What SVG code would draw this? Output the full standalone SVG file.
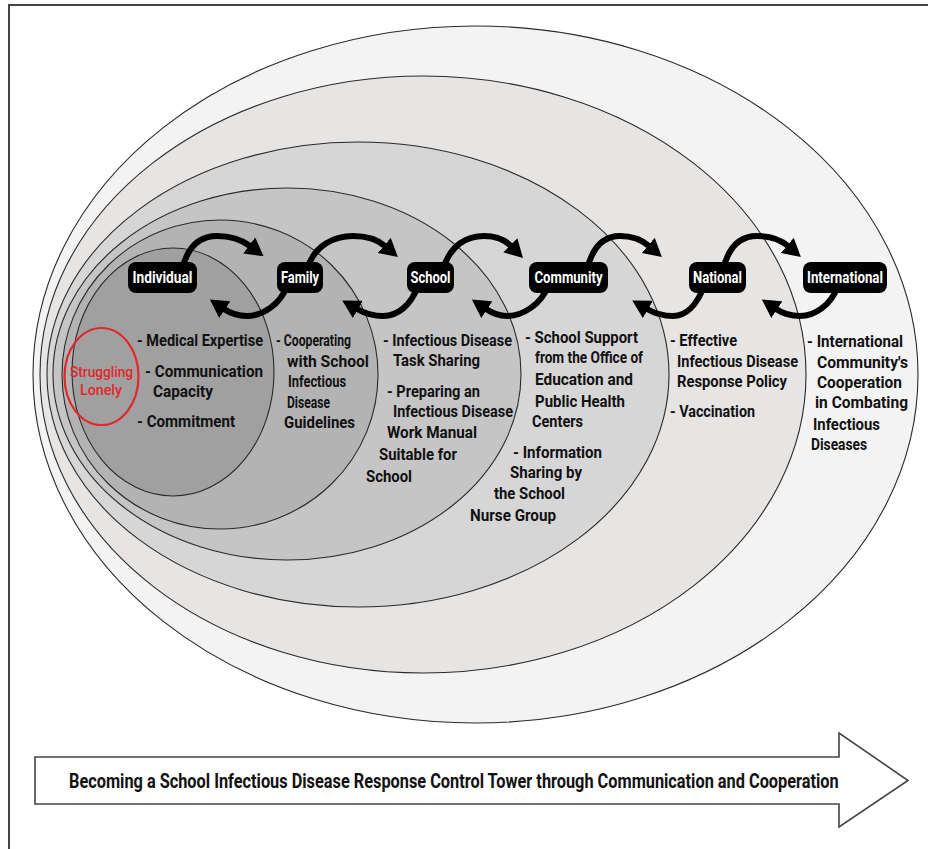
<svg xmlns="http://www.w3.org/2000/svg" width="928" height="849" viewBox="0 0 928 849">
<defs>
<style>
.ring{stroke:#2a2a2a;stroke-width:1.1}
.lbl{fill:#000}
.lt{font-family:Roboto,"Liberation Sans",sans-serif;font-weight:700;font-size:16px;fill:#fff;text-anchor:middle}
.t{font-family:Roboto,"Liberation Sans",sans-serif;font-weight:700;font-size:16px;fill:#111}
.red{font-family:Roboto,"Liberation Sans",sans-serif;font-weight:500;font-size:15px;fill:#e3262b}
.arr{fill:none;stroke:#000;stroke-width:6;stroke-linecap:butt}
.big{font-family:Roboto,"Liberation Sans",sans-serif;font-weight:700;font-size:21px;fill:#111}
</style>
<marker id="ah" viewBox="0 -10 18 20" refX="1" refY="0" markerWidth="18" markerHeight="20" markerUnits="userSpaceOnUse" orient="auto">
<path d="M0,-10 L18,0 L0,10 z" fill="#000"/>
</marker>
</defs>
<rect width="928" height="849" fill="#fff"/>
<path d="M9,849 V5 H928" fill="none" stroke="#444" stroke-width="2"/>

<g id="levels">
<ellipse id="ring-international" class="ring" cx="475.5" cy="374.5" rx="442.5" ry="348.5" fill="#f3f3f3"/>
<ellipse id="ring-national" class="ring" cx="423" cy="374.5" rx="383" ry="298.5" fill="#e7e4e4"/>
<ellipse id="ring-community" class="ring" cx="358" cy="374.5" rx="311" ry="232.5" fill="#d6d6d6"/>
<ellipse id="ring-school" class="ring" cx="287" cy="374" rx="234" ry="186" fill="#c5c5c5"/>
<ellipse id="ring-family" class="ring" cx="220" cy="374.5" rx="158" ry="154.5" fill="#b3b3b3"/>
<ellipse id="ring-individual" class="ring" cx="173" cy="372" rx="101" ry="124" fill="#a0a0a0"/>
</g>

<g id="connectors">
<path class="arr" marker-end="url(#ah)" d="M182,270 C188,244 202,236 217,236 C230,236 242,240 250,246"/>
<path class="arr" marker-end="url(#ah)" d="M307,270 C314,244 336,236 353,236 C366,236 378,240 385,246"/>
<path class="arr" marker-end="url(#ah)" d="M443,270 C450,244 468,236 484,236 C496,236 505,240 511,246"/>
<path class="arr" marker-end="url(#ah)" d="M587,270 C593,244 606,236 620,236 C632,236 642,240 649,246"/>
<path class="arr" marker-end="url(#ah)" d="M723,270 C729,244 742,236 757,236 C770,236 781,240 788,246"/>
<path class="arr" marker-end="url(#ah)" d="M287,286 C280,305 262,316 247,316 C238,316 230,313 224,309"/>
<path class="arr" marker-end="url(#ah)" d="M418,286 C411,305 398,316 383,316 C372,316 364,313 357,309"/>
<path class="arr" marker-end="url(#ah)" d="M548,286 C541,305 522,316 507,316 C498,316 492,313 486,309"/>
<path class="arr" marker-end="url(#ah)" d="M704,286 C697,305 686,316 673,316 C662,316 654,313 647,309"/>
<path class="arr" marker-end="url(#ah)" d="M838,286 C831,305 815,316 800,316 C790,316 782,313 776,309"/>
</g>

<g id="individual">
<rect class="lbl" x="128" y="262" width="69" height="31" rx="8"/>
<text class="lt" x="162.5" y="283" textLength="60" lengthAdjust="spacingAndGlyphs">Individual</text>
<ellipse cx="101.5" cy="376.5" rx="37" ry="48.5" fill="none" stroke="#e3262b" stroke-width="2.2"/>
<text class="red" x="70" y="377" textLength="63" lengthAdjust="spacingAndGlyphs">Struggling</text>
<text class="red" x="80" y="395" textLength="42" lengthAdjust="spacingAndGlyphs">Lonely</text>
<text class="t" x="137" y="346" textLength="126" lengthAdjust="spacingAndGlyphs">- Medical Expertise</text>
<text class="t" x="145" y="377" textLength="118" lengthAdjust="spacingAndGlyphs">- Communication</text>
<text class="t" x="153" y="397" textLength="60" lengthAdjust="spacingAndGlyphs">Capacity</text>
<text class="t" x="137" y="427" textLength="98" lengthAdjust="spacingAndGlyphs">- Commitment</text>
</g>

<g id="family">
<rect class="lbl" x="277" y="262" width="46" height="31" rx="8"/>
<text class="lt" x="300" y="283" textLength="38" lengthAdjust="spacingAndGlyphs">Family</text>
<text class="t" x="276" y="346" textLength="75" lengthAdjust="spacingAndGlyphs">- Cooperating</text>
<text class="t" x="287" y="367" textLength="82" lengthAdjust="spacingAndGlyphs">with School</text>
<text class="t" x="288" y="387" textLength="58" lengthAdjust="spacingAndGlyphs">Infectious</text>
<text class="t" x="287" y="408" textLength="43" lengthAdjust="spacingAndGlyphs">Disease</text>
<text class="t" x="284" y="428" textLength="71" lengthAdjust="spacingAndGlyphs">Guidelines</text>
</g>

<g id="school">
<rect class="lbl" x="407" y="262" width="47" height="31" rx="8"/>
<text class="lt" x="430.5" y="283" textLength="40" lengthAdjust="spacingAndGlyphs">School</text>
<text class="t" x="383" y="346" textLength="129" lengthAdjust="spacingAndGlyphs">- Infectious Disease</text>
<text class="t" x="393" y="366" textLength="87" lengthAdjust="spacingAndGlyphs">Task Sharing</text>
<text class="t" x="387" y="397" textLength="93" lengthAdjust="spacingAndGlyphs">- Preparing an</text>
<text class="t" x="393" y="417" textLength="120" lengthAdjust="spacingAndGlyphs">Infectious Disease</text>
<text class="t" x="387" y="438" textLength="90" lengthAdjust="spacingAndGlyphs">Work Manual</text>
<text class="t" x="379" y="460" textLength="78" lengthAdjust="spacingAndGlyphs">Suitable for</text>
<text class="t" x="366" y="482" textLength="46" lengthAdjust="spacingAndGlyphs">School</text>
</g>

<g id="community">
<rect class="lbl" x="529" y="262" width="79" height="31" rx="8"/>
<text class="lt" x="568.5" y="283" textLength="68" lengthAdjust="spacingAndGlyphs">Community</text>
<text class="t" x="525" y="343" textLength="113" lengthAdjust="spacingAndGlyphs">- School Support</text>
<text class="t" x="535" y="363" textLength="108" lengthAdjust="spacingAndGlyphs">from the Office of</text>
<text class="t" x="535" y="385" textLength="98" lengthAdjust="spacingAndGlyphs">Education and</text>
<text class="t" x="535" y="407" textLength="90" lengthAdjust="spacingAndGlyphs">Public Health</text>
<text class="t" x="532" y="427" textLength="51" lengthAdjust="spacingAndGlyphs">Centers</text>
<text class="t" x="513" y="458" textLength="89" lengthAdjust="spacingAndGlyphs">- Information</text>
<text class="t" x="510" y="478" textLength="72" lengthAdjust="spacingAndGlyphs">Sharing by</text>
<text class="t" x="494" y="499" textLength="71" lengthAdjust="spacingAndGlyphs">the School</text>
<text class="t" x="470" y="521" textLength="86" lengthAdjust="spacingAndGlyphs">Nurse Group</text>
</g>

<g id="national">
<rect class="lbl" x="689" y="262" width="57" height="31" rx="8"/>
<text class="lt" x="717.5" y="283" textLength="49" lengthAdjust="spacingAndGlyphs">National</text>
<text class="t" x="670" y="346" textLength="67" lengthAdjust="spacingAndGlyphs">- Effective</text>
<text class="t" x="677" y="367" textLength="121" lengthAdjust="spacingAndGlyphs">Infectious Disease</text>
<text class="t" x="677" y="387" textLength="110" lengthAdjust="spacingAndGlyphs">Response Policy</text>
<text class="t" x="670" y="417" textLength="85" lengthAdjust="spacingAndGlyphs">- Vaccination</text>
</g>

<g id="international">
<rect class="lbl" x="803" y="262" width="84" height="31" rx="8"/>
<text class="lt" x="845" y="283" textLength="76" lengthAdjust="spacingAndGlyphs">International</text>
<text class="t" x="807" y="347" textLength="96" lengthAdjust="spacingAndGlyphs">- International</text>
<text class="t" x="817" y="368" textLength="91" lengthAdjust="spacingAndGlyphs">Community's</text>
<text class="t" x="817" y="388" textLength="85" lengthAdjust="spacingAndGlyphs">Cooperation</text>
<text class="t" x="815" y="408" textLength="93" lengthAdjust="spacingAndGlyphs">in Combating</text>
<text class="t" x="813" y="430" textLength="67" lengthAdjust="spacingAndGlyphs">Infectious</text>
<text class="t" x="811" y="450" textLength="56" lengthAdjust="spacingAndGlyphs">Diseases</text>
</g>

<g id="direction-arrow">
<path d="M35,757 H839 V733 L908,780.5 L839,827 V804 H35 Z" fill="#fff" stroke="#444" stroke-width="1.6" stroke-linejoin="miter"/>
<text class="big" transform="translate(69,788) scale(0.72,1)" x="0" y="0" textLength="1069" lengthAdjust="spacingAndGlyphs">Becoming a School Infectious Disease Response Control Tower through Communication and Cooperation</text>
</g>
</svg>
